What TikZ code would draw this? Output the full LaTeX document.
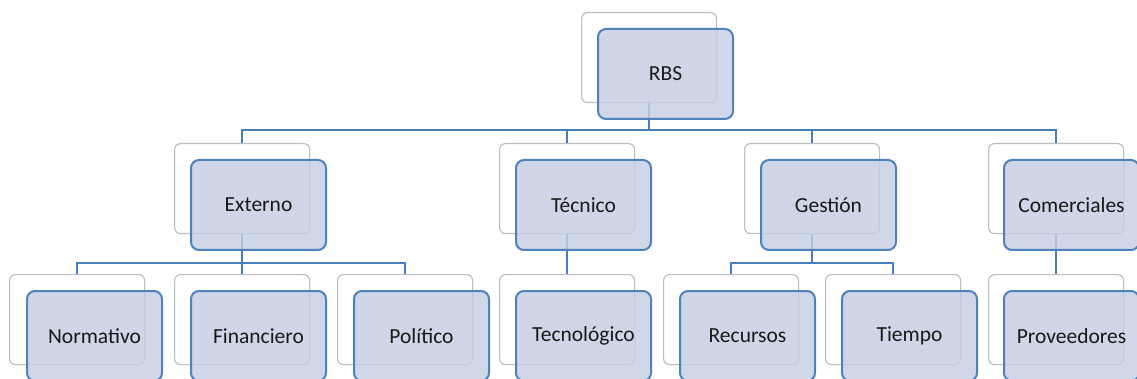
\documentclass[tikz,border=0pt]{standalone}
\usepackage{fontspec}
\setmainfont{Carlito}
\definecolor{boxblue}{RGB}{79,129,189}
\definecolor{boxfill}{RGB}{196,206,227}
\definecolor{linkblue}{RGB}{74,126,187}
\definecolor{shadowgray}{RGB}{190,190,190}
\definecolor{labeltext}{RGB}{25,25,25}
\tikzset{
  backbox/.style={draw=shadowgray, fill=white, line width=1.2pt, rounded corners=6pt,
    minimum width=135pt, minimum height=90pt, anchor=north west, inner sep=0pt},
  frontbox/.style={draw=boxblue, fill=boxfill, fill opacity=0.82, text opacity=1,
    line width=2pt, rounded corners=8pt, minimum width=135pt, minimum height=90pt,
    anchor=north west, inner sep=0pt, text=labeltext,
    font=\fontsize{21.5}{25}\selectfont},
  link/.style={draw=linkblue, line width=2pt},
}
\begin{document}
\begin{tikzpicture}[x=1pt,y=-1pt]
\useasboundingbox (0,0) rectangle (1137,379);
% shadow boxes behind each entry
\node[backbox] (bRBS) at (581,12) {};
\node[backbox] (bExt) at (174,143) {};
\node[backbox] (bTec) at (499,143) {};
\node[backbox] (bGes) at (744,143) {};
\node[backbox] (bCom) at (988,143) {};
\node[backbox] (bNor) at (9,274) {};
\node[backbox] (bFin) at (174,274) {};
\node[backbox] (bPol) at (337,274) {};
\node[backbox] (bTcn) at (499,274) {};
\node[backbox] (bRec) at (663,274) {};
\node[backbox] (bTie) at (825,274) {};
\node[backbox] (bPro) at (988,274) {};
% heights of the horizontal bars
\coordinate (barA) at (0,130);
\coordinate (barB) at (0,263);
% tree connectors
\draw[link] (bRBS.south) -- (bRBS.south |- barA);
\draw[link] (bExt.north) |- (bCom.north |- barA) -- (bCom.north);
\draw[link] (bTec.north) -- (bTec.north |- barA);
\draw[link] (bGes.north) -- (bGes.north |- barA);
\draw[link] (bExt.south) -- (bExt.south |- barB);
\draw[link] (bNor.north) |- (bPol.north |- barB) -- (bPol.north);
\draw[link] (bFin.north) -- (bFin.north |- barB);
\draw[link] (bTec.south) -- (bTcn.north);
\draw[link] (bGes.south) -- (bGes.south |- barB);
\draw[link] (bRec.north) |- (bTie.north |- barB) -- (bTie.north);
\draw[link] (bCom.south) -- (bPro.north);
% labelled boxes
\node[frontbox] (fRBS) at ([shift={(16,16)}]bRBS.north west) {RBS};
\node[frontbox] (fExt) at ([shift={(16,16)}]bExt.north west) {Externo};
\node[frontbox] (fTec) at ([shift={(16,16)}]bTec.north west) {Técnico};
\node[frontbox] (fGes) at ([shift={(16,16)}]bGes.north west) {Gestión};
\node[frontbox] (fCom) at ([shift={(15,16)}]bCom.north west) {Comerciales};
\node[frontbox] (fNor) at ([shift={(17,16)}]bNor.north west) {Normativo};
\node[frontbox] (fFin) at ([shift={(16,16)}]bFin.north west) {Financiero};
\node[frontbox] (fPol) at ([shift={(16,16)}]bPol.north west) {Político};
\node[frontbox] (fTcn) at ([shift={(16,16)}]bTcn.north west) {Tecnológico};
\node[frontbox] (fRec) at ([shift={(16,16)}]bRec.north west) {Recursos};
\node[frontbox] (fTie) at ([shift={(16,16)}]bTie.north west) {Tiempo};
\node[frontbox] (fPro) at ([shift={(15,16)}]bPro.north west) {Proveedores};
\end{tikzpicture}
\end{document}
